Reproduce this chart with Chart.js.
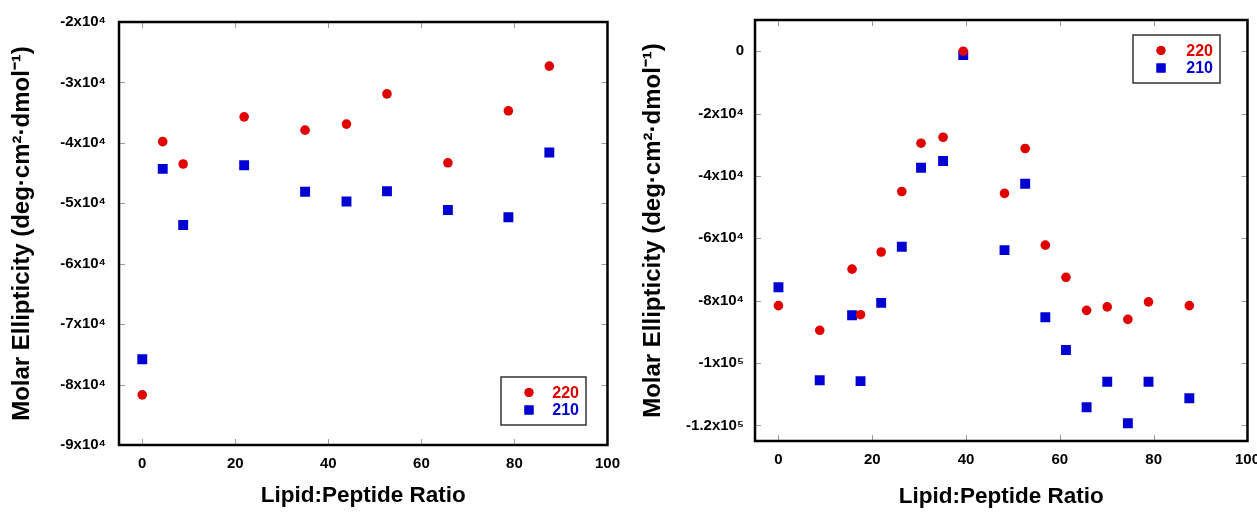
<!DOCTYPE html>
<html>
<head>
<meta charset="utf-8">
<script src="https://cdn.jsdelivr.net/npm/chart.js@4.4.1/dist/chart.umd.min.js"></script>
<style>
  body { margin: 0; background: #fff; overflow: hidden; width: 1257px; height: 512px; position: relative; }
  .panel { position: absolute; top: 0; }
</style>
</head>
<body>
<div class="panel" style="left:0"><canvas id="left" width="630" height="512"></canvas></div>
<div class="panel" style="left:630px"><canvas id="right" width="640" height="512"></canvas></div>
<script>
// left panel
const leftX = [0, 4.4, 8.8, 21.9, 35, 43.9, 52.6, 65.7, 78.7, 87.5];
const left220 = [-81700, -39800, -43500, -35700, -37900, -36900, -31900, -43300, -34700, -27300];
const left210 = [-75800, -44300, -53600, -43700, -48100, -49700, -48000, -51100, -52300, -41600];
const leftYTicks = [-90000, -80000, -70000, -60000, -50000, -40000, -30000, -20000];
const leftYLabels = ['-9x10⁴', '-8x10⁴', '-7x10⁴', '-6x10⁴', '-5x10⁴', '-4x10⁴', '-3x10⁴', '-2x10⁴'];

// right panel
const rightX = [0, 8.8, 15.7, 17.5, 21.9, 26.3, 30.4, 35.1, 39.4, 48.2, 52.6, 56.9, 61.3, 65.7, 70.1, 74.5, 78.9, 87.6];
const right220 = [-81600, -89500, -69900, -84500, -64400, -45000, -29500, -27600, 0, -45600, -31200, -62200, -72500, -83100, -82000, -86000, -80400, -81600];
const right210 = [-75700, -105500, -84700, -105800, -80700, -62700, -37400, -35200, -1200, -63800, -42500, -85300, -95800, -114200, -106000, -119300, -106000, -111300];
const rightYTicks = [-120000, -100000, -80000, -60000, -40000, -20000, 0];
const rightYLabels = ['-1.2x10⁵', '-1x10⁵', '-8x10⁴', '-6x10⁴', '-4x10⁴', '-2x10⁴', '0'];

const xTicks = [0, 20, 40, 60, 80, 100];
const seriesNames = ['220', '210'];
const red = '#e00000';
const blue = '#0000d2';
const family = '"Liberation Sans", Arial, sans-serif';

// frame, inner tick marks and the boxed legend
const framePlugin = {
  id: 'frame',
  afterDatasetsDraw(chart, args, opts) {
    const { ctx, chartArea: a, scales } = chart;
    ctx.save();
    ctx.strokeStyle = '#9a9a9a';
    ctx.lineWidth = 1;
    const seg = (x1, y1, x2, y2) => { ctx.beginPath(); ctx.moveTo(x1, y1); ctx.lineTo(x2, y2); ctx.stroke(); };
    scales.x.ticks.forEach(t => {
      const px = Math.round(scales.x.getPixelForValue(t.value)) + 0.5;
      seg(px, a.top, px, a.top + 6);
      seg(px, a.bottom, px, a.bottom - 6);
    });
    scales.y.ticks.forEach(t => {
      const py = Math.round(scales.y.getPixelForValue(t.value)) + 0.5;
      seg(a.left, py, a.left + 6, py);
      seg(a.right, py, a.right - 6, py);
    });
    ctx.strokeStyle = '#000';
    ctx.lineWidth = 2.5;
    ctx.strokeRect(a.left, a.top, a.right - a.left, a.bottom - a.top);

    // legend box
    const b = opts.box;
    ctx.strokeStyle = '#333';
    ctx.lineWidth = 1.5;
    ctx.strokeRect(b.x, b.y, b.w, b.h);
    ctx.font = 'bold 16px ' + family;
    ctx.textAlign = 'right';
    ctx.textBaseline = 'middle';
    chart.data.datasets.forEach((ds, i) => {
      const cy = b.y + 15.5 + i * 17.5;
      ctx.fillStyle = ds.backgroundColor;
      Chart.helpers.drawPoint(ctx, { pointStyle: ds.pointStyle, radius: ds.pointRadius - (i ? 0.6 : 0.3), rotation: 0, borderWidth: 0 }, b.x + 28, cy);
      ctx.fill();
      ctx.fillStyle = ds.backgroundColor;
      ctx.fillText(ds.label, b.x + b.w - 7, cy + 1);
    });
    ctx.restore();
  }
};

function makeChart(id, xs, s220, s210, yTicks, yLabels, yMin, yMax, cfg) {
  const pts = arr => arr.map((v, i) => ({ x: xs[i], y: v }));
  return new Chart(document.getElementById(id), {
    type: 'scatter',
    data: {
      datasets: [
        { label: seriesNames[0], data: pts(s220), pointStyle: 'circle', pointRadius: 4.8,
          backgroundColor: red, borderColor: red, borderWidth: 0 },
        { label: seriesNames[1], data: pts(s210), pointStyle: 'rect', pointRadius: 7,
          backgroundColor: blue, borderColor: blue, borderWidth: 0 }
      ]
    },
    options: {
      responsive: false,
      devicePixelRatio: 1,
      animation: false,
      layout: { padding: { top: cfg.top, right: cfg.right, left: 0, bottom: 0 } },
      plugins: {
        legend: { display: false },
        tooltip: { enabled: false },
        frame: { box: cfg.box }
      },
      scales: {
        x: {
          min: -5, max: 100,
          afterBuildTicks: s => { s.ticks = xTicks.map(v => ({ value: v })); },
          afterFit: s => { s.height = cfg.xHeight; },
          grid: { display: false, drawTicks: false },
          border: { display: false },
          ticks: { color: '#000', padding: 10, maxRotation: 0, font: { family, size: 15, weight: 'bold' } },
          title: { display: true, text: 'Lipid:Peptide Ratio', color: '#000',
                   padding: { top: 0, bottom: cfg.xTitlePad }, font: { family, size: 22.5, weight: 'bold' } }
        },
        y: {
          min: yMin, max: yMax,
          afterBuildTicks: s => { s.ticks = yTicks.map(v => ({ value: v })); },
          afterFit: s => { s.width = cfg.yWidth; },
          grid: { display: false, drawTicks: false },
          border: { display: false },
          ticks: { color: '#000', padding: cfg.yTickPad, font: { family, size: 15, weight: 'bold' },
                   callback: v => yLabels[yTicks.indexOf(v)] },
          title: { display: true, text: 'Molar Ellipticity (deg·cm²·dmol⁻¹)', color: '#000',
                   padding: { top: cfg.yTitlePad, bottom: 0 }, font: { family, size: 24, weight: 'bold' } }
        }
      }
    },
    plugins: [framePlugin]
  });
}

makeChart('left', leftX, left220, left210, leftYTicks, leftYLabels, -90000, -20000, {
  top: 20, right: 16, xHeight: 67, yWidth: 119, yTickPad: 13, xTitlePad: 3, yTitlePad: 8,
  box: { x: 501, y: 377, w: 85, h: 48 }
});
makeChart('right', rightX, right220, right210, rightYTicks, rightYLabels, -125000, 10000, {
  top: 17, right: 17, xHeight: 71, yWidth: 125, yTickPad: 11, xTitlePad: 2, yTitlePad: 9,
  box: { x: 503, y: 35, w: 87, h: 48 }
});
</script>
</body>
</html>
